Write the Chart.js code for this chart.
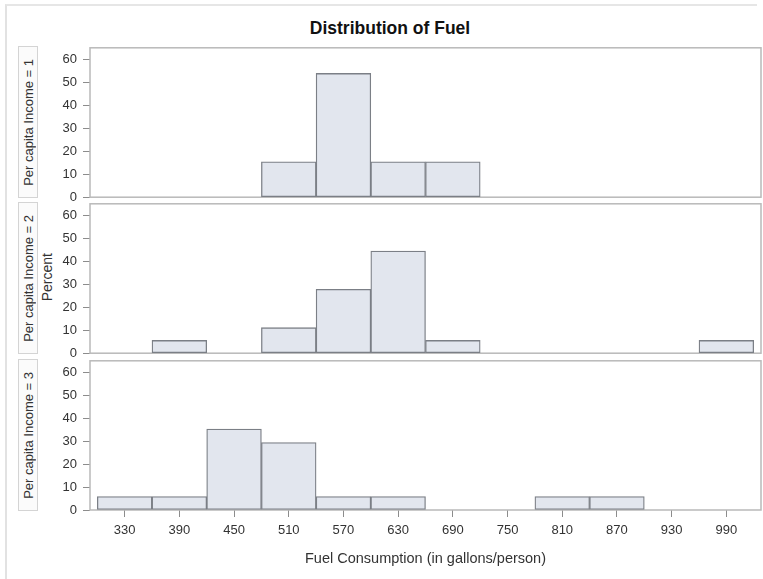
<!DOCTYPE html>
<html>
<head>
<meta charset="utf-8">
<script src="https://cdn.jsdelivr.net/npm/chart.js@4/dist/chart.umd.min.js"></script>
<style>
  body { margin: 0; background: #fff; font-family: "Liberation Sans", Arial, sans-serif; }
  #page { position: relative; width: 763px; height: 579px; overflow: hidden; }
  #frame { position: absolute; left: 5px; top: 4px; width: 750px; height: 600px;
           border-left: 2px solid #e2e2e2; border-top: 2px solid #e6e6e6; }
  #title { position: absolute; left: 90px; width: 600px; top: 18px; text-align: center;
           font-weight: bold; font-size: 17.5px; color: #111; }
  .strip { position: absolute; left: 18px; width: 18px; border: 1px solid #d4d4d4; background: #fbfbfb;
           display: flex; align-items: center; justify-content: center; }
  .strip span { writing-mode: vertical-rl; transform: rotate(180deg); font-size: 13px; color: #333; white-space: nowrap; }
  #ylab { position: absolute; left: 38px; top: 202px; height: 151px; width: 18px;
          display: flex; align-items: center; justify-content: center; }
  #ylab span { writing-mode: vertical-rl; transform: rotate(180deg); font-size: 14px; color: #333; }
  canvas { position: absolute; left: 0; }
</style>
</head>
<body>
<div id="page">
  <div id="frame"></div>
  <div id="title">Distribution of Fuel</div>
  <div class="strip" style="top:46px;height:150px"><span>Per capita Income = 1</span></div>
  <div class="strip" style="top:202px;height:150px"><span>Per capita Income = 2</span></div>
  <div class="strip" style="top:359px;height:150px"><span>Per capita Income = 3</span></div>
  <div id="ylab"><span>Percent</span></div>
  <canvas id="p1" width="763" height="177" style="top:34px"></canvas>
  <canvas id="p2" width="763" height="177" style="top:190px"></canvas>
  <canvas id="p3" width="763" height="223" style="top:347px"></canvas>
</div>
<script>
// histogram bins (midpoints) and percents for each income group
var income1Bins = [510, 570, 630, 690];
var income1Pct  = [15.38, 53.85, 15.38, 15.38];

var income2Bins = [390, 510, 570, 630, 690, 990];
var income2Pct  = [5.56, 11.11, 27.78, 44.44, 5.56, 5.56];

var income3Bins = [330, 390, 450, 510, 570, 630, 810, 870];
var income3Pct  = [5.88, 5.88, 35.29, 29.41, 5.88, 5.88, 5.88, 5.88];

var xTicks = [330, 390, 450, 510, 570, 630, 690, 750, 810, 870, 930, 990];
var yTicks = [0, 10, 20, 30, 40, 50, 60];

var xTitle = "Fuel Consumption (in gallons/person)";

var tickFont = { family: "'Liberation Sans', Arial, sans-serif", size: 13 };

// grey box round the plot area
var framePlugin = {
  id: 'frame',
  beforeDatasetsDraw: function(chart) {
    var a = chart.chartArea, ctx = chart.ctx;
    ctx.save();
    ctx.strokeStyle = '#b9b9b9';
    ctx.lineWidth = 1.5;
    ctx.strokeRect(a.left, a.top, a.right - a.left, a.bottom - a.top);
    ctx.restore();
  }
};

function makePanel(id, bins, pct, showX) {
  var ctx = document.getElementById(id).getContext('2d');
  var pts = [];
  for (var i = 0; i < bins.length; i++) pts.push({ x: bins[i], y: pct[i] });
  return new Chart(ctx, {
    type: 'bar',
    data: {
      datasets: [{
        data: pts,
        backgroundColor: '#e2e6ee',
        borderColor: '#7b7f86',
        borderWidth: 1.3,
        borderSkipped: false,
        barPercentage: 1,
        categoryPercentage: 1
      }]
    },
    options: {
      responsive: false,
      animation: false,
      layout: { padding: { top: 12, right: 2, left: 0, bottom: showX ? 0 : 4 } },
      plugins: { legend: { display: false }, tooltip: { enabled: false } },
      scales: {
        x: {
          type: 'linear',
          min: 292, max: 1028,
          offset: false,
          display: showX,
          afterBuildTicks: function(s) { s.ticks = xTicks.map(function(v) { return { value: v }; }); },
          afterFit: function(s) { s.height = showX ? 60 : 0; },
          grid: { display: true, offset: false, drawOnChartArea: false, drawTicks: true, tickLength: 7, color: '#8c8c8c' },
          border: { display: false },
          ticks: { font: tickFont, color: '#333', padding: 6, maxRotation: 0, autoSkip: false },
          title: { display: showX, text: xTitle, color: '#333',
                   font: { family: "'Liberation Sans', Arial, sans-serif", size: 14.5 },
                   padding: { top: 0, bottom: 2 } }
        },
        y: {
          min: 0, max: 65,
          afterBuildTicks: function(s) { s.ticks = yTicks.map(function(v) { return { value: v }; }); },
          afterFit: function(s) { s.width = 90; },
          grid: { display: true, drawOnChartArea: false, drawTicks: true, tickLength: 7, color: '#8c8c8c' },
          border: { display: false },
          ticks: { font: tickFont, color: '#333', padding: 6, autoSkip: false }
        }
      }
    },
    plugins: [framePlugin]
  });
}

makePanel('p1', income1Bins, income1Pct, false);
makePanel('p2', income2Bins, income2Pct, false);
makePanel('p3', income3Bins, income3Pct, true);
</script>
</body>
</html>
